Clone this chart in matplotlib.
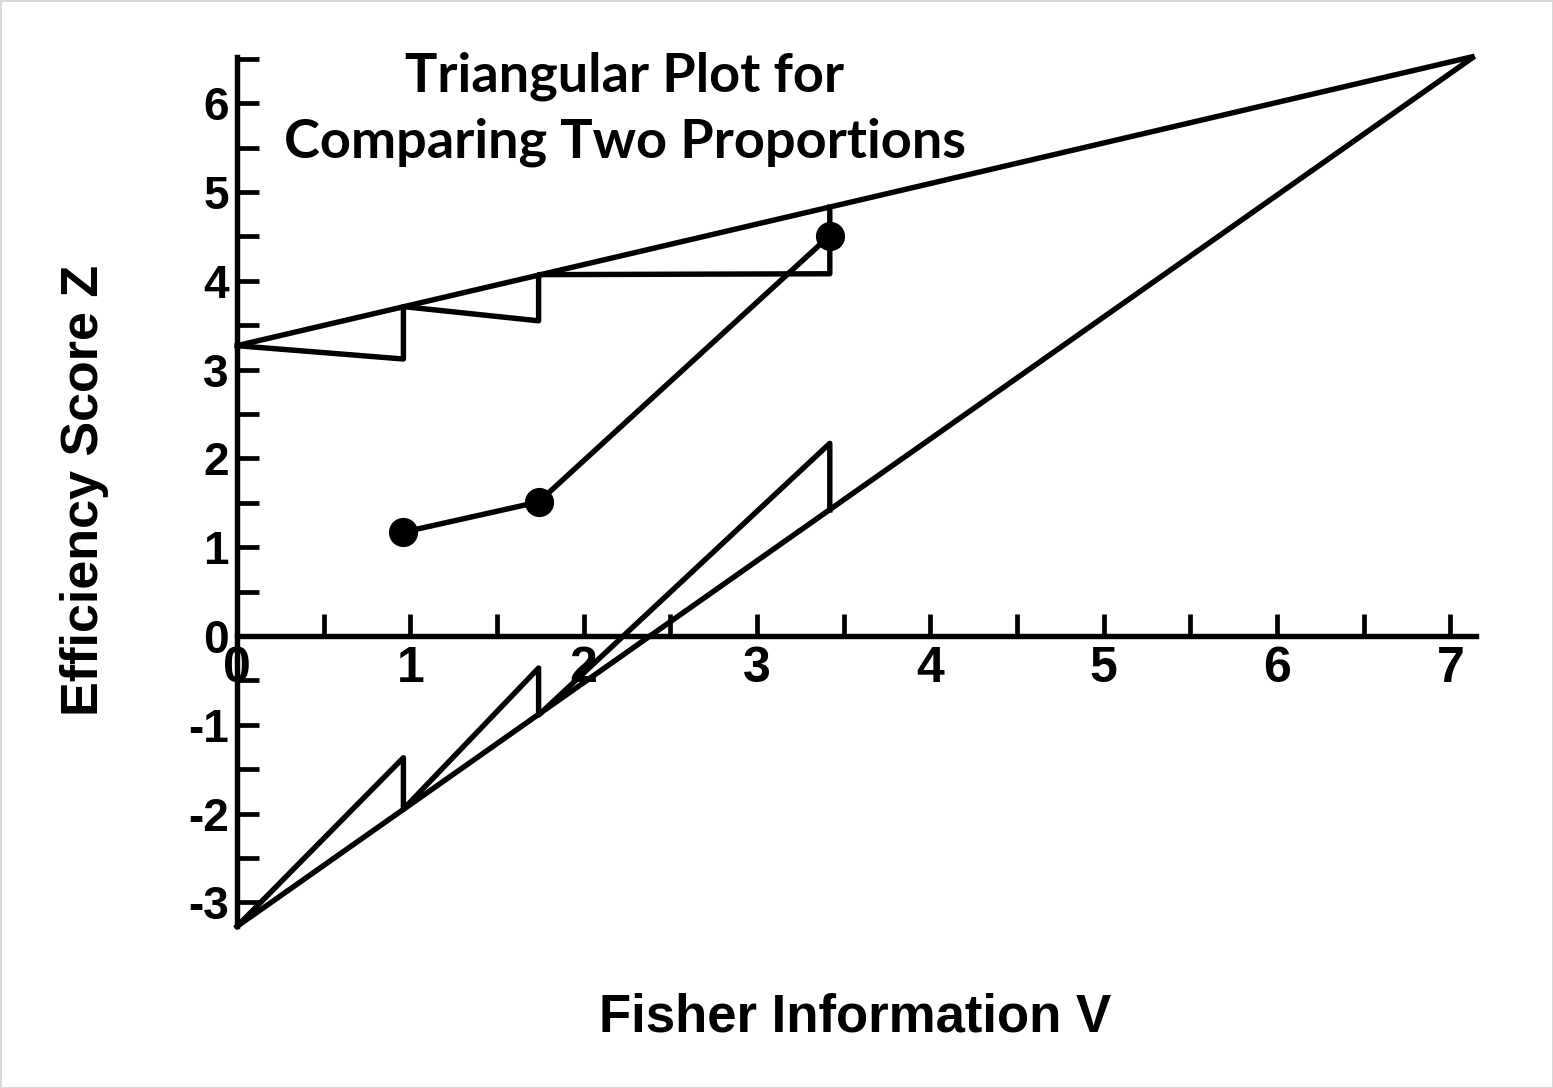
import matplotlib
matplotlib.use("Agg")
import matplotlib.pyplot as plt
import numpy as np

# boundaries of the triangular test
v_start = 0.0
z_upper_start = 3.27
z_lower_start = -3.27
v_apex = 7.14
z_apex = 6.53

# christmas tree corrected inner boundaries
upper_inner_v = [0.0, 0.96, 0.96, 1.74, 1.74, 3.42, 3.42]
upper_inner_z = [3.27, 3.12, 3.71, 3.55, 4.07, 4.08, 4.83]
lower_inner_v = [0.0, 0.96, 0.96, 1.74, 1.74, 3.42, 3.42]
lower_inner_z = [-3.27, -1.37, -1.95, -0.36, -0.89, 2.17, 1.42]

# sample path (interim analyses)
path_v = [0.96, 1.74, 3.42]
path_z = [1.17, 1.51, 4.51]

x_ticks = np.arange(0, 7.01, 0.5)
x_tick_labels = ['0', '', '1', '', '2', '', '3', '', '4', '', '5', '', '6', '', '7']
y_ticks = np.arange(-3, 6.51, 0.5)
y_tick_labels = ['-3', '', '-2', '', '-1', '', '0', '', '1', '', '2', '', '3', '', '4', '', '5', '', '6', '']

W, H = 1553, 1088
fig = plt.figure(figsize=(W / 100, H / 100), dpi=100, edgecolor='#d8d8d8', linewidth=2)
ax = fig.add_axes([237 / W, 1 - 933.5 / H, (1485 - 237) / W, (933.5 - 50) / H])
ax.set_xlim(0, 7.2)
ax.set_ylim(-3.35, 6.6)

lw = 3.9
ax.plot([v_start, v_apex], [z_upper_start, z_apex], color='black', lw=lw, clip_on=False, solid_capstyle='butt')
ax.plot([v_start, v_apex], [z_lower_start, z_apex], color='black', lw=lw, clip_on=False, solid_capstyle='butt')
ax.plot(upper_inner_v, upper_inner_z, color='black', lw=lw, clip_on=False)
ax.plot(lower_inner_v, lower_inner_z, color='black', lw=lw, clip_on=False)
ax.plot(path_v, path_z, color='black', lw=lw, marker='o', ms=20, clip_on=False, zorder=5)

for s in ['top', 'right']:
    ax.spines[s].set_visible(False)
ax.spines['left'].set_position(('data', 0))
ax.spines['bottom'].set_position(('data', 0))
ax.spines['left'].set_bounds(-3.27, 6.52)
ax.spines['bottom'].set_bounds(0, 7.15)
ax.spines['left'].set_linewidth(3.9)
ax.spines['bottom'].set_linewidth(3.9)

ax.set_xticks(x_ticks)
ax.set_xticklabels(x_tick_labels, fontfamily='Liberation Sans', fontweight='bold', fontsize=36)
ax.set_yticks(y_ticks)
ax.set_yticklabels(y_tick_labels, fontfamily='Liberation Sans', fontweight='bold', fontsize=33)
ax.tick_params(axis='x', direction='in', length=16, width=3.4, pad=7)
ax.tick_params(axis='y', direction='in', length=16, width=3.4, pad=6)

fig.text(625 / W, 1 - 109 / H, 'Triangular Plot for\nComparing Two Proportions',
         ha='center', va='center', fontfamily='Lato', fontweight='bold', fontsize=39, linespacing=1.42)
fig.text(85 / W, 1 - 490 / H, 'Efficiency Score Z', rotation=90, ha='center', va='center',
         fontfamily='Liberation Sans', fontweight='bold', fontsize=37.5)
fig.text(855 / W, 1 - 1017 / H, 'Fisher Information V', ha='center', va='center',
         fontfamily='Liberation Sans', fontweight='bold', fontsize=38)

fig.savefig('out.png', dpi=100)
